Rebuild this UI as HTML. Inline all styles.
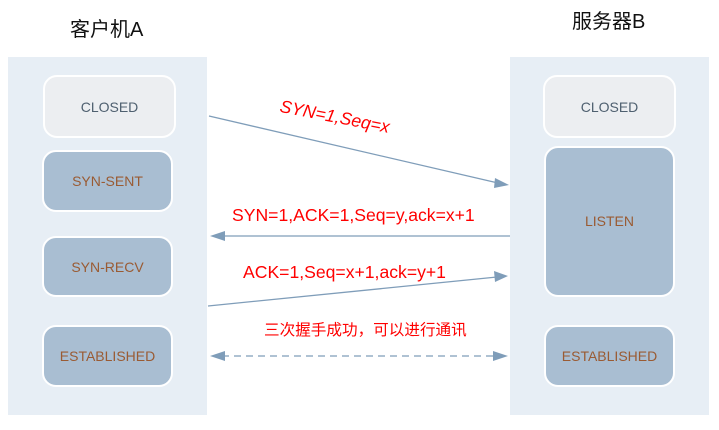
<!DOCTYPE html>
<html><head><meta charset="utf-8"><style>
body{margin:0;width:719px;height:430px;background:#fff;overflow:hidden;position:relative;font-family:"Liberation Sans","Noto Sans CJK SC",sans-serif}
.p{position:absolute;background:#e7eef5}
.b{position:absolute;border:2px solid #fff;border-radius:14px;box-sizing:border-box;display:flex;align-items:center;justify-content:center;font-size:14px;color:#9a5b33;background:#a9bed2}
.c{background:#eceef1;color:#4f6070}
.t{position:absolute;font-size:20px;color:#111}
.r{position:absolute;color:#f00;font-size:17.6px;white-space:nowrap}
</style></head><body>
<div class="t" style="left:70px;top:13px">客户机A</div>
<div class="t" style="left:572px;top:5px">服务器B</div>
<div class="p" style="left:8px;top:57px;width:199px;height:358px"></div>
<div class="p" style="left:510px;top:57px;width:199px;height:358px"></div>
<div class="b c" style="left:43px;top:75px;width:133px;height:63px">CLOSED</div>
<div class="b" style="left:42px;top:150px;width:131px;height:62px">SYN-SENT</div>
<div class="b" style="left:42px;top:236px;width:131px;height:61px">SYN-RECV</div>
<div class="b" style="left:42px;top:325px;width:131px;height:62px">ESTABLISHED</div>
<div class="b c" style="left:543px;top:75px;width:133px;height:63px">CLOSED</div>
<div class="b" style="left:544px;top:146px;width:131px;height:151px;padding-bottom:2px;align-items:flex-start;padding-top:65px">LISTEN</div>
<div class="b" style="left:544px;top:325px;width:131px;height:62px">ESTABLISHED</div>
<svg style="position:absolute;left:0;top:0" width="719" height="430">
<g stroke="#7f9db9" stroke-width="1.3" fill="#7f9db9">
<line x1="209" y1="116" x2="498" y2="183"/><polygon points="509,185 495,178 494,188" stroke="none"/>
<line x1="220" y1="236" x2="510" y2="236"/><polygon points="210,236 225,231 225,241" stroke="none"/>
<line x1="208" y1="306" x2="497" y2="277"/><polygon points="508,276 494,271 495,282" stroke="none"/>
<line x1="222" y1="356" x2="496" y2="356" stroke-dasharray="7,5"/><polygon points="210,356 225,351 225,361" stroke="none"/><polygon points="508,356 493,351 493,361" stroke="none"/>
</g></svg>
<div class="r" style="left:282px;top:96px;transform:rotate(11deg);transform-origin:0 0;font-style:italic">SYN=1,Seq=x</div>
<div class="r" style="left:232px;top:205px">SYN=1,ACK=1,Seq=y,ack=x+1</div>
<div class="r" style="left:243px;top:262px">ACK=1,Seq=x+1,ack=y+1</div>
<div class="r" style="left:264px;top:318px;font-size:15.6px">三次握手成功，可以进行通讯</div>
</body></html>
